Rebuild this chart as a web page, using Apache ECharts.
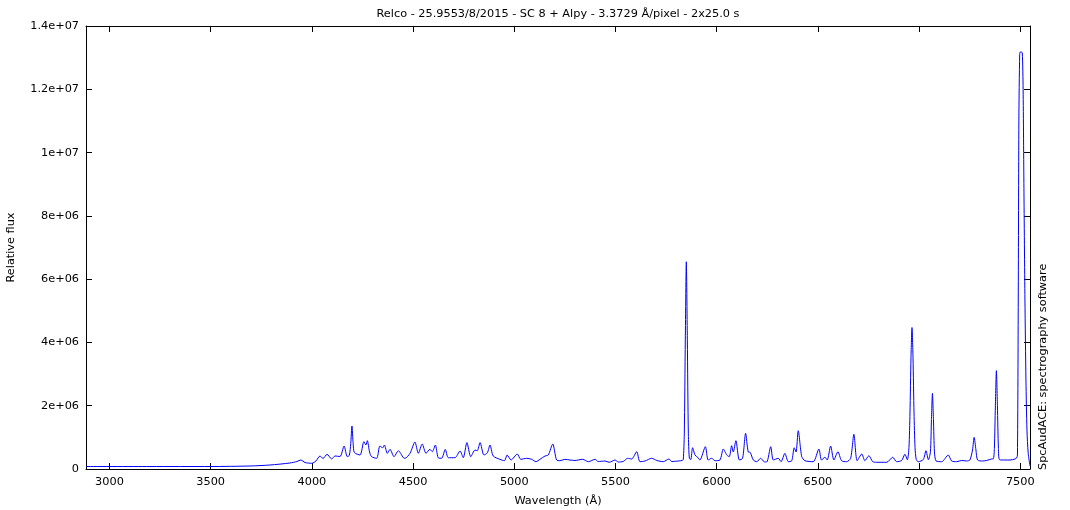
<!DOCTYPE html>
<html>
<head>
<meta charset="utf-8">
<script src="https://cdn.jsdelivr.net/npm/echarts@6/dist/echarts.min.js"></script>
<style>
html,body{margin:0;padding:0;background:#fff;}
#chart{width:1070px;height:510px;}
</style>
</head>
<body>
<div id="chart"></div>
<script>
// Wavelength (Å) samples
const wavelength = [
2884,3200,3501,3694,3793,3892,3926,3946,3966,3999,4020,4040,4055,4075,4098,4114,4139,4159,4175,
4185,4192,4198,4204,4210,4238,4257,4267,4274,4285,4295,4320,4336,4350,4358,4373,4386,4406,4427,
4452,4460,4485,4509,4526,4545,4564,4583,4595,4610,4624,4641,4659,4674,4707,4732,4748,4766,4785,
4806,4817,4831,4850,4867,4880,4896,4929,4951,4965,4984,5015,5032,5061,5086,5107,5127,5152,5168,
5190,5209,5226,5250,5275,5300,5338,5366,5399,5415,5448,5469,5498,5514,5538,5560,5580,5605,5621,
5646,5679,5704,5736,5764,5778,5810,5830,5835,5840,5845,5850,5855,5860,5865,5872,5881,5893,5906,
5917,5944,5958,5975,5992,6016,6033,6050,6062,6074,6082,6095,6112,6128,6143,6156,6165,6181,6198,
6217,6234,6247,6267,6280,6304,6318,6337,6354,6371,6383,6392,6403,6420,6436,6477,6505,6518,6535,
6546,6563,6579,6599,6617,6642,6662,6678,6694,6717,6732,6752,6771,6790,6840,6870,6889,6914,6930,
6942,6950,6955,6960,6965,6970,6975,6980,6986,6996,7021,7034,7046,7056,7061,7066,7071,7076,7084,
7112,7144,7161,7186,7210,7235,7251,7264,7272,7281,7289,7314,7334,7358,7367,7372,7377,7382,7387,
7392,7398,7425,7449,7474,7482,7486,7490,7493,7497,7500,7505,7510,7514,7518,7523,7528,7533,7539,7548
];
// Relative flux samples
const flux = [
79000,79000,79000,95000,126000,190000,237000,284000,205000,180000,253000,411000,332000,465000,316000,411000,395000,727000,389000,
430000,800000,1359000,800000,520000,442000,863000,758000,895000,537000,389000,338000,727000,670000,758000,496000,622000,389000,578000,
357000,338000,496000,853000,496000,790000,496000,622000,547000,758000,357000,338000,622000,357000,357000,569000,357000,834000,389000,
600000,578000,834000,442000,512000,758000,411000,306000,262000,442000,284000,474000,306000,338000,306000,231000,306000,411000,442000,
790000,284000,262000,306000,284000,270000,306000,231000,306000,237000,253000,212000,284000,221000,237000,338000,316000,547000,231000,
253000,338000,270000,231000,316000,237000,253000,270000,300000,1110000,4080000,6550000,4080000,1110000,330000,300000,673000,442000,370000,
284000,705000,284000,338000,262000,284000,632000,442000,389000,737000,537000,895000,284000,338000,1128000,537000,528000,284000,231000,
338000,231000,221000,705000,284000,338000,231000,496000,231000,262000,670000,537000,1210000,395000,262000,231000,632000,284000,370000,
284000,727000,284000,547000,262000,231000,338000,1097000,262000,474000,262000,420000,231000,212000,212000,370000,231000,270000,465000,
290000,680000,1770000,3520000,4470000,3520000,1770000,680000,300000,231000,300000,578000,290000,540000,1560000,2390000,1560000,540000,253000,
231000,442000,253000,231000,270000,253000,284000,600000,1000000,600000,284000,253000,270000,316000,320000,650000,2000000,3110000,2000000,
650000,290000,284000,284000,316000,350000,440000,5340000,11000000,13100000,13180000,13180000,13150000,12000000,8870000,5340000,2810000,1230000,506000,95000
];
// Axis tick values and labels
const xTicks = [3000,3500,4000,4500,5000,5500,6000,6500,7000,7500];
const yTickLabels = ['0','2e+06','4e+06','6e+06','8e+06','1e+07','1.2e+07','1.4e+07'];

const FONT = '"DejaVu Sans", sans-serif';
const FS = 11.3;
const points = wavelength.map((w, i) => [w, flux[i]]);
const chart = echarts.init(document.getElementById('chart'), null, {renderer: 'canvas'});
const blk = {color: '#000', width: 1};
const xBase = {
  type: 'value', min: 2884, max: 7548,
  splitLine: {show: false},
  axisLine: {show: true, onZero: false, lineStyle: blk},
  axisTick: {show: true, inside: true, length: 6, customValues: xTicks, lineStyle: blk}
};
const yBase = {
  type: 'value', min: 0, max: 1.4e7, interval: 2e6,
  splitLine: {show: false},
  axisLine: {show: true, onZero: false, lineStyle: blk},
  axisTick: {show: true, inside: true, length: 6, lineStyle: blk}
};
chart.setOption({
  animation: false,
  backgroundColor: '#fff',
  title: {
    text: 'Relco - 25.9553/8/2015 - SC 8 + Alpy - 3.3729 Å/pixel - 2x25.0 s',
    left: 558, top: 9, textAlign: 'center', padding: 0,
    textStyle: {fontFamily: FONT, fontSize: FS, fontWeight: 'normal', color: '#000'}
  },
  grid: {left: 86, right: 40, top: 26, bottom: 41, containLabel: false, outerBoundsMode: 'none'},
  xAxis: [
    Object.assign({}, xBase, {
      position: 'bottom',
      name: 'Wavelength (Å)', nameLocation: 'middle', nameGap: 27,
      nameTextStyle: {fontFamily: FONT, fontSize: FS, color: '#000'},
      axisLabel: {show: true, customValues: xTicks, margin: 8, fontFamily: FONT, fontSize: FS, color: '#000',
        formatter: v => String(v)}
    }),
    Object.assign({}, xBase, {position: 'top', axisLabel: {show: false}})
  ],
  yAxis: [
    Object.assign({}, yBase, {
      position: 'left',
      name: 'Relative flux', nameLocation: 'middle', nameGap: 69, nameRotate: 90,
      nameTextStyle: {fontFamily: FONT, fontSize: FS, color: '#000'},
      axisLabel: {show: true, margin: 7, fontFamily: FONT, fontSize: FS, color: '#000',
        formatter: v => yTickLabels[Math.round(v / 2e6)]}
    }),
    Object.assign({}, yBase, {position: 'right', axisLabel: {show: false}})
  ],
  graphic: [{
    type: 'text', x: 1043, y: 470, rotation: Math.PI / 2,
    style: {text: 'SpcAudACE: spectrography software', fontFamily: FONT, fontSize: FS,
      fill: '#000', align: 'left', verticalAlign: 'middle'}
  }],
  series: [{
    type: 'line', xAxisIndex: 0, yAxisIndex: 0,
    data: points, showSymbol: false, symbol: 'none',
    smooth: 0.25,
    lineStyle: {color: '#0000ff', width: 1},
    clip: true
  }]
});
</script>
</body>
</html>
